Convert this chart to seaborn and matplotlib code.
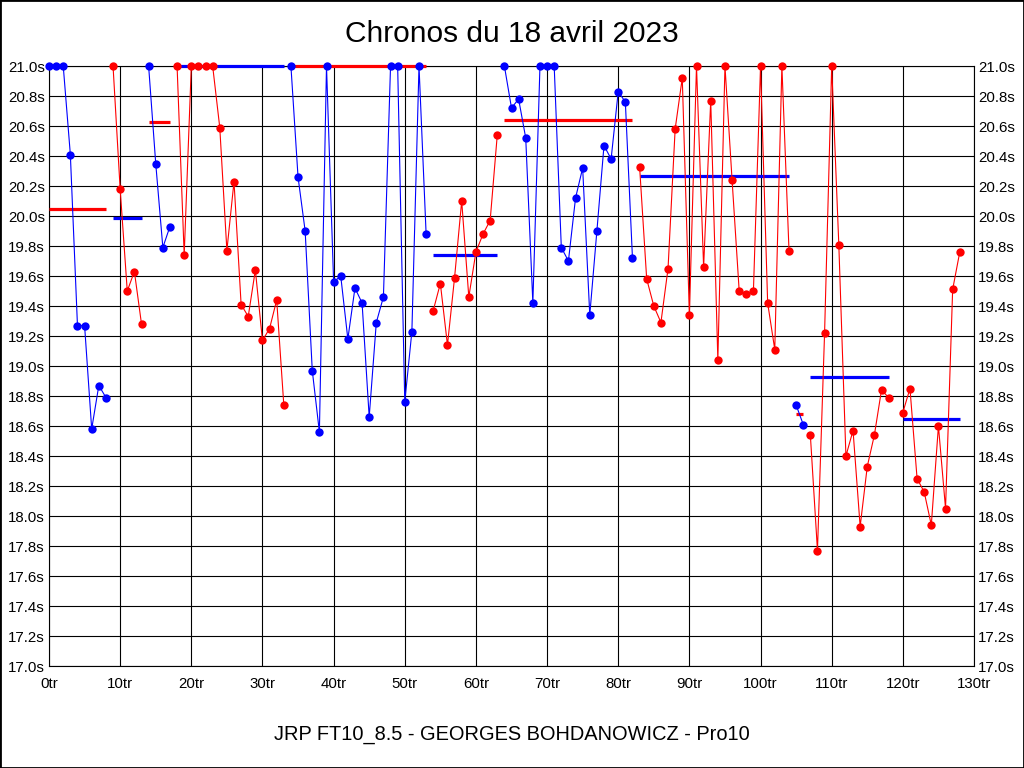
import numpy as np
import pandas as pd
import matplotlib
matplotlib.use('Agg')
import matplotlib.pyplot as plt
import seaborn as sns
from matplotlib.patches import Rectangle

# lap times (s) per lap number, values above 21.0 are shown capped at 21.0
lap_times = [
    21.0, 21.0, 21.0, 20.41, 19.27, 19.27, 18.58, 18.87, 18.79,
    21.0, 20.18, 19.50, 19.63, 19.28,
    21.0, 20.35, 19.79, 19.93,
    21.0, 19.74, 21.0, 21.0, 21.0, 21.0, 20.59, 19.77, 20.23, 19.41, 19.33, 19.64,
    19.17, 19.25, 19.44, 18.74,
    21.0, 20.26, 19.90, 18.97, 18.56, 21.0, 19.56, 19.60, 19.18, 19.52, 19.42, 18.66,
    19.29, 19.46, 21.0, 21.0, 18.76, 19.23, 21.0, 19.88,
    19.37, 19.55, 19.14, 19.59, 20.10, 19.46, 19.76, 19.88, 19.97, 20.54,
    21.0, 20.72, 20.78, 20.52, 19.42, 21.0, 21.0, 21.0, 19.79, 19.70, 20.12, 20.32,
    19.34, 19.90, 20.47, 20.38, 20.83, 20.76, 19.72,
    20.33, 19.58, 19.40, 19.29, 19.65, 20.58, 20.92, 19.34, 21.0, 19.66, 20.77, 19.04,
    21.0, 20.24, 19.50, 19.48, 19.50, 21.0, 19.42, 19.11, 21.0, 19.77,
    18.74, 18.61,
    18.54, 17.77, 19.22, 21.0, 19.81, 18.40, 18.57, 17.93, 18.33, 18.54, 18.84, 18.79,
    np.nan,
    18.69, 18.85, 18.25, 18.16, 17.94, 18.60, 18.05, 19.51, 19.76,
]

session_first = [0, 9, 14, 18, 34, 54, 64, 83, 105, 107, 120]
session_last = [8, 13, 17, 33, 53, 63, 82, 104, 106, 118, 128]
session_colors = ['blue', 'red', 'blue', 'red', 'blue', 'red', 'blue', 'red', 'blue', 'red', 'red']
session_means = [20.05, 19.99, 20.63, 21.0, 21.0, 19.74, 20.64, 20.27, 18.68, 18.93, 18.65]

title = 'Chronos du 18 avril 2023'
footer = 'JRP FT10_8.5 - GEORGES BOHDANOWICZ - Pro10'

df = pd.DataFrame({'lap': np.arange(len(lap_times)), 'time': lap_times})

sns.set_style('white')
plt.rcParams['font.family'] = ['Liberation Sans', 'DejaVu Sans']
plt.rcParams['text.color'] = 'black'

fig = plt.figure(figsize=(10.24, 7.68), dpi=100)
ax = fig.add_axes([49 / 1024, 1 - 666 / 768, 925 / 1024, 600 / 768])

for first, last, col, mean in zip(session_first, session_last, session_colors, session_means):
    sub = df[(df['lap'] >= first) & (df['lap'] <= last)]
    other = 'red' if col == 'blue' else 'blue'
    ax.hlines(mean, first, last, colors=other, lw=2.3, zorder=2.7, clip_on=False)
    sns.lineplot(data=sub, x='lap', y='time', color=col, lw=0.8,
                 marker='o', markersize=6, markeredgewidth=0,
                 estimator=None, ax=ax, zorder=3, clip_on=False)

ax.set_xlim(0, 130)
ax.set_ylim(17.0, 21.0)
xt = np.arange(0, 131, 10)
yt = np.round(np.arange(17.0, 21.01, 0.2), 1)
ax.set_xticks(xt)
ax.set_xticklabels([f'{v}tr' for v in xt])
ax.set_yticks(yt)
ax.set_yticklabels([f'{v:.1f}s' for v in yt])
ax.tick_params(axis='both', length=0, labelsize=10.8, colors='black')
ax.tick_params(axis='x', pad=8)
ax.tick_params(axis='y', pad=3, right=True, labelright=True)
ax.grid(True, color='black', lw=0.8)
ax.set_axisbelow(True)
for s in ax.spines.values():
    s.set_color('black')
    s.set_linewidth(0.8)
ax.set_xlabel('')
ax.set_ylabel('')

fig.text(0.5, 1 - 34 / 768, title, ha='center', va='center', fontsize=21.5, color='black')
fig.text(0.5, 1 - 735 / 768, footer, ha='center', va='center', fontsize=14.4, color='black')
fig.patches.append(Rectangle((0, 0), 1, 1, transform=fig.transFigure,
                             fill=False, edgecolor='black', lw=2))

fig.savefig('out.png', dpi=100, facecolor='white')
